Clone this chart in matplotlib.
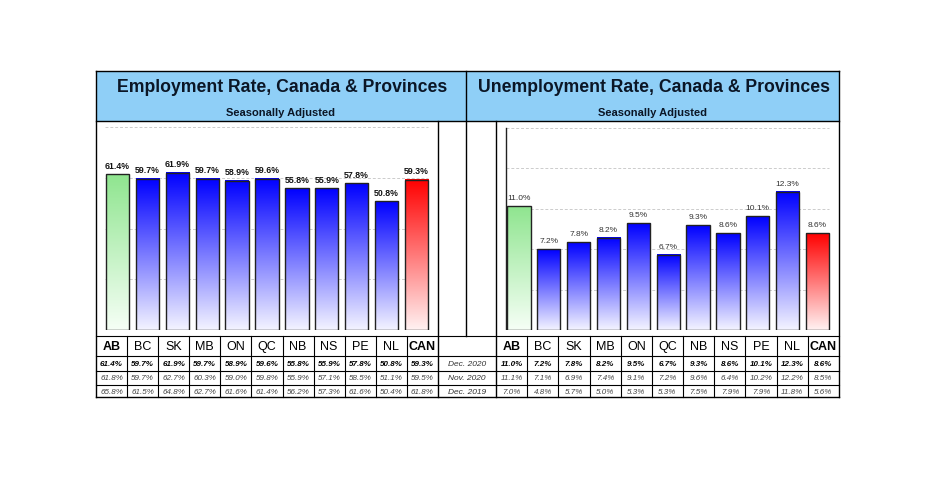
import numpy as np
import matplotlib.pyplot as plt
from matplotlib.colors import LinearSegmentedColormap
from matplotlib.lines import Line2D
from matplotlib.patches import Rectangle

plt.rcParams['font.family'] = ['Liberation Sans', 'DejaVu Sans']

provinces = ["AB", "BC", "SK", "MB", "ON", "QC", "NB", "NS", "PE", "NL", "CAN"]
periods = ["Dec. 2020", "Nov. 2020", "Dec. 2019"]

emp_dec2020 = [61.4, 59.7, 61.9, 59.7, 58.9, 59.6, 55.8, 55.9, 57.8, 50.8, 59.3]
emp_nov2020 = [61.8, 59.7, 62.7, 60.3, 59.0, 59.8, 55.9, 57.1, 58.5, 51.1, 59.5]
emp_dec2019 = [65.8, 61.5, 64.8, 62.7, 61.6, 61.4, 56.2, 57.3, 61.6, 50.4, 61.8]

unemp_dec2020 = [11.0, 7.2, 7.8, 8.2, 9.5, 6.7, 9.3, 8.6, 10.1, 12.3, 8.6]
unemp_nov2020 = [11.1, 7.1, 6.9, 7.4, 9.1, 7.2, 9.6, 6.4, 10.2, 12.2, 8.5]
unemp_dec2019 = [7.0, 4.8, 5.7, 5.0, 5.3, 5.3, 7.5, 7.9, 7.9, 11.8, 5.6]

W, H = 948, 481
fig = plt.figure(figsize=(W / 100, H / 100), dpi=100)


def fx(x):
    return x / W


def fy(y):
    return 1 - y / H


def line(x0, y0, x1, y1, lw=1.0, color='black'):
    fig.add_artist(Line2D([fx(x0), fx(x1)], [fy(y0), fy(y1)], lw=lw, color=color))


def ptext(x, y, s, **kw):
    fig.text(fx(x), fy(y), s, ha='center', va='center', **kw)


# header bands
for x0, x1, title in [(96, 466, "Employment Rate, Canada & Provinces"),
                      (466, 839, "Unemployment Rate, Canada & Provinces")]:
    fig.add_artist(Rectangle((fx(x0), fy(122)), (x1 - x0) / W, 50 / H,
                             transform=fig.transFigure, facecolor='#8fcff7',
                             edgecolor='none'))
    ptext((x0 + x1) / 2 + 1, 88, title, fontsize=12.7, fontweight='bold', color='#0b1626')
    ptext((x0 + x1) / 2, 112.5, "Seasonally Adjusted", fontsize=8, fontweight='bold',
          color='#0b1626')


def gradient_bars(ax, values, label_kw, label_off):
    x = np.arange(len(values))
    bars = ax.bar(x, values, width=0.78, facecolor='none', edgecolor='#222222',
                  linewidth=1.0, zorder=3)
    grad = np.linspace(0, 1, 256).reshape(-1, 1)
    for i, bar in enumerate(bars):
        if provinces[i] == "AB":
            cols = ['#f6fff6', '#8fe58f']
        elif provinces[i] == "CAN":
            cols = ['#fff2f2', '#ff0000']
        else:
            cols = ['#f4f4ff', '#0000ff']
        cmap = LinearSegmentedColormap.from_list('g', cols)
        bx, bw, bh = bar.get_x(), bar.get_width(), bar.get_height()
        ax.imshow(grad, extent=[bx, bx + bw, 0, bh], origin='lower', cmap=cmap,
                  aspect='auto', zorder=2)
        ax.text(bx + bw / 2, bh + label_off, "%.1f%%" % values[i], ha='center',
                va='bottom', zorder=4, **label_kw)
    return bars


# employment chart
ax1 = fig.add_axes([fx(97), fy(331), (438 - 97) / W, (331 - 123) / H])
gradient_bars(ax1, emp_dec2020, dict(fontsize=6.3, fontweight='bold', color='#111111'), 1.8)
for g in [20, 40, 60, 80]:
    ax1.plot([-0.42, 10.4], [g, g], ls=(0, (3, 2)), color='#cccccc', lw=0.7, zorder=1)
ax1.set_xlim(-0.686, 10.72)
ax1.set_ylim(0, 82)
ax1.axis('off')

# unemployment chart
ax2 = fig.add_axes([fx(496), fy(331), (839 - 496) / W, (331 - 123) / H])
gradient_bars(ax2, unemp_dec2020, dict(fontsize=6, color='#333333'), 0.45)
for g in np.arange(3.6, 18.1, 3.6):
    ax2.plot([-0.45, 10.4], [g, g], ls=(0, (3, 2)), color='#cccccc', lw=0.7, zorder=1)
ax2.plot([-0.45, -0.45], [0, 18], color='#222222', lw=1.0, zorder=3)
ax2.set_xlim(-0.77, 10.72)
ax2.set_ylim(0, 18.5)
ax2.axis('off')

# frame lines
top, head_bot, tab_top, tab_bot = 72, 122, 337, 398
line(96, top, 839, top)
line(96, tab_bot, 839, tab_bot)
line(96, top, 96, tab_bot)
line(839, top, 839, tab_bot)
line(96, head_bot, 839, head_bot)
line(466, top, 466, tab_top)
line(438, head_bot, 438, tab_bot)
line(496, head_bot, 496, tab_bot)
for y in [tab_top, 357, 371.5, 385.5]:
    line(96, y, 839, y, lw=0.8)

# tables
col_w_l = (438 - 96) / 11
col_w_r = (839 - 496) / 11
row_y = [364.2, 378.5, 392]
for k in range(1, 11):
    line(96 + k * col_w_l, tab_top, 96 + k * col_w_l, tab_bot, lw=0.8)
    line(496 + k * col_w_r, tab_top, 496 + k * col_w_r, tab_bot, lw=0.8)

for x0, cw, rows in [(96, col_w_l, [emp_dec2020, emp_nov2020, emp_dec2019]),
                     (496, col_w_r, [unemp_dec2020, unemp_nov2020, unemp_dec2019])]:
    for k, p in enumerate(provinces):
        cx = x0 + (k + 0.5) * cw
        bold = p in ("AB", "CAN")
        ptext(cx, 347, p, fontsize=9, fontweight='bold' if bold else 'normal')
        for r, vals in enumerate(rows):
            if r == 0:
                ptext(cx, row_y[r], "%.1f%%" % vals[k], fontsize=5.8,
                      fontweight='bold', style='italic', color='black')
            else:
                ptext(cx, row_y[r], "%.1f%%" % vals[k], fontsize=5.8,
                      style='italic', color='#444444')

for r, p in enumerate(periods):
    ptext(467, row_y[r], p, fontsize=6, style='italic', color='#333333')

fig.savefig("out.png", dpi=100)
